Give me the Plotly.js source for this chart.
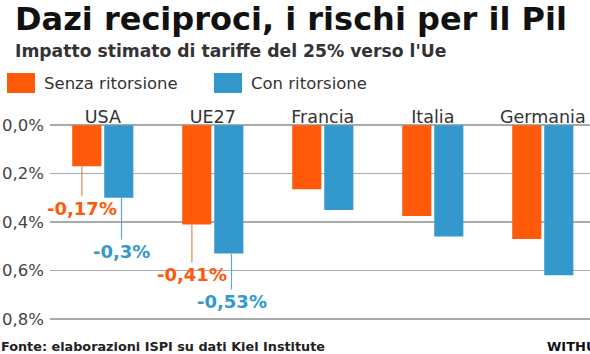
<!DOCTYPE html>
<html>
<head>
<meta charset="utf-8">
<script src="https://cdn.plot.ly/plotly-3.0.1.min.js"></script>
<style>html,body{margin:0;padding:0;background:#fff;}#chart{width:590px;height:354px;}</style>
</head>
<body>
<div id="chart"></div>
<script>
// ---- data ----
const categories = ["USA", "UE27", "Francia", "Italia", "Germania"];
const senzaRitorsione = [-0.17, -0.41, -0.265, -0.375, -0.47];
const conRitorsione = [-0.30, -0.53, -0.35, -0.46, -0.62];
const yTickVals = [0, -0.2, -0.4, -0.6, -0.8];
const yTickText = ["0,0%", "0,2%", "0,4%", "0,6%", "0,8%"];
const labelledSenza = {"USA": "-0,17%", "UE27": "-0,41%"};
const labelledCon = {"USA": "-0,3%", "UE27": "-0,53%"};

const ORANGE = "#ff5a0a";
const BLUE = "#3399cc";
const W = 590, H = 354;
const M = {l: 50, r: 0, t: 124, b: 34};
const plotW = W - M.l - M.r, plotH = H - M.t - M.b;
const px = x => (x - M.l) / plotW;
const py = y => (H - M.b - y) / plotH;
const FONT = "DejaVu Sans";

const traces = [
  {type: "bar", name: "Senza ritorsione", x: categories, y: senzaRitorsione,
   marker: {color: ORANGE}, hoverinfo: "skip"},
  {type: "bar", name: "Con ritorsione", x: categories, y: conRitorsione,
   marker: {color: BLUE}, hoverinfo: "skip"}
];

const annotations = [];
// title / subtitle
annotations.push({xref: "paper", yref: "paper", x: px(13), y: py(19), xanchor: "left", yanchor: "middle",
  text: "<b>Dazi reciproci, i rischi per il Pil</b>", showarrow: false,
  font: {family: FONT, size: 32, color: "#111", weight: 900}});
annotations.push({xref: "paper", yref: "paper", x: px(13), y: py(51), xanchor: "left", yanchor: "middle",
  text: "<b>Impatto stimato di tariffe del 25% verso l'Ue</b>", showarrow: false,
  font: {family: FONT, size: 17.2, color: "#333"}});
// legend
annotations.push({xref: "paper", yref: "paper", x: px(42), y: py(83), xanchor: "left", yanchor: "middle",
  text: "Senza ritorsione", showarrow: false, font: {family: FONT, size: 16.5, color: "#333"}});
annotations.push({xref: "paper", yref: "paper", x: px(249), y: py(83), xanchor: "left", yanchor: "middle",
  text: "Con ritorsione", showarrow: false, font: {family: FONT, size: 16.5, color: "#333"}});
// footer
annotations.push({xref: "paper", yref: "paper", x: px(-1), y: py(346), xanchor: "left", yanchor: "middle",
  text: "<b>Fonte: elaborazioni ISPI su dati Kiel Institute</b>", showarrow: false,
  font: {family: FONT, size: 12.8, color: "#222"}});
annotations.push({xref: "paper", yref: "paper", x: px(545), y: py(346), xanchor: "left", yanchor: "middle",
  text: "<b>WITHUB</b>", showarrow: false,
  font: {family: FONT, size: 13, color: "#111"}});

// value labels with leader lines
const offsS = {"USA": 42, "UE27": 50};
const offsC = {"USA": 54, "UE27": 48};
categories.forEach((c, i) => {
  if (labelledSenza[c]) {
    annotations.push({xref: "x", yref: "y", x: i - 0.19, y: senzaRitorsione[i], ax: 0, ay: offsS[c],
      text: "<b>" + labelledSenza[c] + "</b>", showarrow: true, arrowhead: 0, arrowwidth: 1.2,
      arrowcolor: "#d98c5a", standoff: 0, font: {family: FONT, size: 18, color: ORANGE}});
  }
  if (labelledCon[c]) {
    annotations.push({xref: "x", yref: "y", x: i + 0.17, y: conRitorsione[i], ax: 0, ay: offsC[c],
      text: "<b>" + labelledCon[c] + "</b>", showarrow: true, arrowhead: 0, arrowwidth: 1.2,
      arrowcolor: "#5aaad8", standoff: 0, font: {family: FONT, size: 18, color: BLUE}});
  }
});

const shapes = [
  {type: "rect", xref: "paper", yref: "paper", x0: px(7), x1: px(35), y0: py(93), y1: py(73),
   fillcolor: ORANGE, line: {width: 0}, layer: "above"},
  {type: "rect", xref: "paper", yref: "paper", x0: px(214), x1: px(242), y0: py(93), y1: py(73),
   fillcolor: BLUE, line: {width: 0}, layer: "above"}
];

const layout = {
  width: W, height: H, margin: M,
  paper_bgcolor: "#fff", plot_bgcolor: "#fff",
  showlegend: false,
  barmode: "group", bargap: 0.418, bargroupgap: 0.09,
  xaxis: {type: "category", side: "top", range: [-0.48, -0.48 + plotW / 110],
    showgrid: false, zeroline: false, showline: false, ticks: "", ticklabelstandoff: -3,
    tickfont: {family: FONT, size: 17.5, color: "#333"}, fixedrange: true},
  yaxis: {range: [-0.805, 0.005], tickvals: yTickVals, ticktext: yTickText,
    showgrid: true, gridcolor: "#aaaaaa", gridwidth: 1.5, zeroline: false, showline: false,
    ticks: "", ticklabelstandoff: 5, tickfont: {family: FONT, size: 16.5, color: "#444"}, fixedrange: true},
  annotations: annotations, shapes: shapes
};

Plotly.newPlot("chart", traces, layout, {displayModeBar: false, staticPlot: true});
</script>
</body>
</html>
